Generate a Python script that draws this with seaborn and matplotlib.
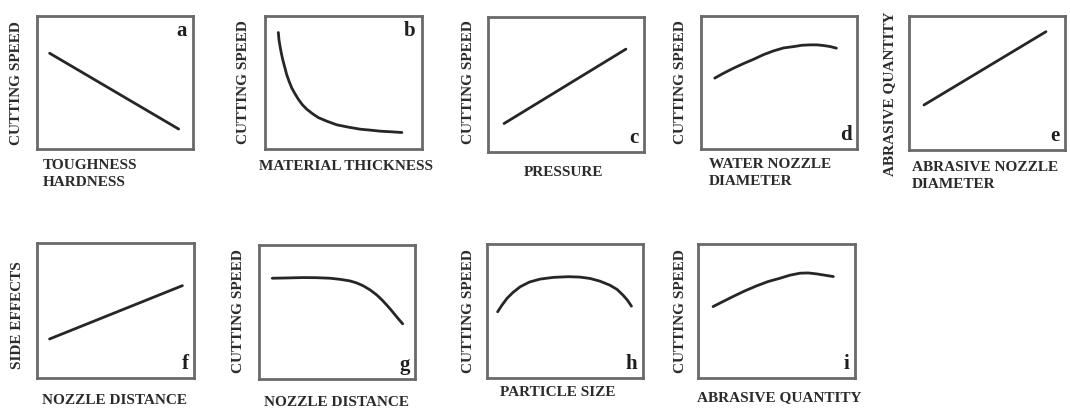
import matplotlib
matplotlib.use("Agg")
import matplotlib.pyplot as plt
import seaborn as sns

sns.set_style("white")
plt.rcParams["font.family"] = ["Liberation Serif", "DejaVu Serif"]

W, H = 1070, 412

# Qualitative trend curves, x and y on a 0-100 scale inside each frame
a_x = [8.1, 90.8]
a_y = [72.0, 15.0]

b_x = [8.5, 8.9, 9.6, 10.4, 11.3, 12.6, 13.8, 15.3, 17.0, 19.1, 21.3, 23.8,
       26.6, 30.2, 34.0, 39.4, 45.7, 53.2, 60.6, 67.0, 73.4, 80.9, 87.2]
b_y = [87.6, 82.1, 77.1, 72.1, 67.2, 61.4, 56.0, 51.0, 46.0, 41.5, 37.3, 33.3,
       29.9, 26.6, 23.6, 20.9, 18.2, 16.4, 14.9, 14.2, 13.4, 12.9, 12.4]

c_x = [10.3, 88.4]
c_y = [21.1, 76.2]

d_x = [8.8, 14.5, 20.9, 27.4, 33.8, 40.2, 46.6, 53.0, 59.4, 64.7, 70.1, 74.4,
       78.6, 82.9, 86.8]
d_y = [53.3, 57.0, 60.8, 64.3, 67.5, 71.0, 73.8, 76.0, 77.0, 78.0, 78.3, 78.3,
       77.8, 77.0, 75.8]

e_x = [9.6, 87.8]
e_y = [33.6, 88.3]

f_x = [8.0, 92.6]
f_y = [28.9, 68.4]

g_x = [8.5, 17.7, 28.4, 37.0, 45.5, 51.9, 58.3, 62.6, 66.9, 71.2, 75.4, 78.6,
       81.8, 84.6, 87.2, 89.7, 92.1]
g_y = [75.2, 75.4, 75.7, 75.6, 75.2, 74.4, 73.2, 71.7, 69.5, 66.5, 62.8, 59.3,
       55.3, 51.6, 47.9, 44.4, 41.2]

h_x = [6.8, 9.6, 12.8, 16.6, 21.3, 27.2, 34.0, 42.6, 52.1, 59.6, 66.0, 72.3,
       78.7, 83.4, 87.2, 90.0, 92.6]
h_y = [49.4, 54.4, 59.4, 63.8, 68.1, 71.6, 73.8, 75.1, 75.6, 75.3, 74.3, 72.3,
       69.3, 66.1, 61.8, 58.1, 53.6]

i_x = [9.6, 16.0, 22.3, 29.8, 37.2, 44.7, 52.1, 58.5, 64.9, 70.2, 75.5, 80.9, 86.2]
i_y = [53.3, 57.1, 60.8, 65.0, 68.7, 72.0, 74.4, 76.7, 78.2, 78.4, 77.7, 76.7, 75.7]

panel_letters = ["a", "b", "c", "d", "e", "f", "g", "h", "i"]
y_labels = ["CUTTING SPEED", "CUTTING SPEED", "CUTTING SPEED", "CUTTING SPEED",
            "ABRASIVE QUANTITY", "SIDE EFFECTS", "CUTTING SPEED", "CUTTING SPEED",
            "CUTTING SPEED"]
x_labels = ["TOUGHNESS\nHARDNESS", "MATERIAL THICKNESS", "PRESSURE",
            "WATER NOZZLE\nDIAMETER", "ABRASIVE NOZZLE\nDIAMETER", "NOZZLE DISTANCE",
            "NOZZLE DISTANCE", "PARTICLE SIZE", "ABRASIVE QUANTITY"]

curves = [(a_x, a_y), (b_x, b_y), (c_x, c_y), (d_x, d_y), (e_x, e_y),
          (f_x, f_y), (g_x, g_y), (h_x, h_y), (i_x, i_y)]

# frame boxes in pixels: left, top, right, bottom
boxes = [(37, 16, 193, 149), (265, 16, 422, 149), (488, 17, 644, 152),
         (701, 16, 857, 149), (909, 16, 1065, 150), (37, 243, 194, 378),
         (259, 245, 415, 379), (487, 244, 643, 378), (698, 244, 855, 378)]
letter_top = [True, True, False, False, False, False, False, False, False]

# label placement in pixels
ylab_pos = [(17, 83), (244, 82), (468, 82), (681, 82), (890, 94),
            (18, 315), (238, 311), (468, 311), (680, 311)]
xlab_pos = [(43, 174, "left"), (346, 167, "center"), (564, 173, "center"),
            (709, 173, "left"), (912, 176, "left"), (114, 400, "center"),
            (336, 402, "center"), (558, 393, "center"), (779, 398, "center")]

fig = plt.figure(figsize=(W / 100, H / 100), dpi=100)
fig.patch.set_facecolor("white")

lab_kw = dict(fontsize=11, fontweight="bold", color="#2b2b2b")

for k in range(9):
    l, t, r, b = boxes[k]
    ax = fig.add_axes([l / W, 1 - b / H, (r - l) / W, (b - t) / H])
    xs, ys = curves[k]
    sns.lineplot(x=xs, y=ys, ax=ax, color="#262626", linewidth=2.0, sort=False,
                 solid_joinstyle="round", solid_capstyle="round")
    ax.set_xlim(0, 100)
    ax.set_ylim(0, 100)
    ax.set_xticks([])
    ax.set_yticks([])
    for sp in ax.spines.values():
        sp.set_visible(True)
        sp.set_color("#6a6a6a")
        sp.set_linewidth(2.0)
    if letter_top[k]:
        ax.text(0.96, 0.96, panel_letters[k], transform=ax.transAxes, ha="right",
                va="top", fontsize=15, fontweight="bold", color="#1e1e1e")
    else:
        ax.text(0.965, 0.03, panel_letters[k], transform=ax.transAxes, ha="right",
                va="bottom", fontsize=15, fontweight="bold", color="#1e1e1e")

    yx, yy = ylab_pos[k]
    fig.text(yx / W, 1 - yy / H, y_labels[k], rotation=90, ha="center",
             va="center", **lab_kw)
    xx, xy, ha = xlab_pos[k]
    fig.text(xx / W, 1 - xy / H, x_labels[k], ha=ha, va="center",
             linespacing=1.35, **lab_kw)

fig.savefig("out.png", dpi=100, facecolor="white")
